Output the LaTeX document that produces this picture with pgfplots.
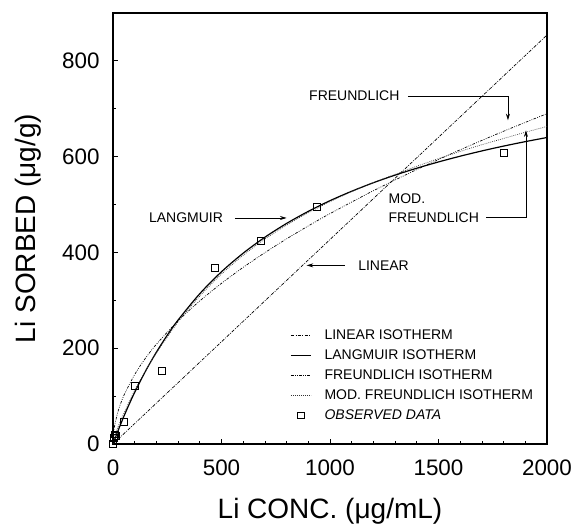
\documentclass[border=0pt]{standalone}
\usepackage{fontspec}
\setmainfont{Liberation Sans}
\usepackage{pgfplots}
\pgfplotsset{compat=1.18}
\usetikzlibrary{arrows.meta}
\pgfplotsset{
  lineleg/.style={legend image code/.code={\draw[##1] (0pt,0pt) -- (15pt,0pt);}},
  markleg/.style={legend image code/.code={\draw[##1] plot coordinates {(7.5pt,0pt)};}},
}

\begin{document}
\begin{tikzpicture}
\begin{axis}[
  scale only axis, width=325.5pt, height=323.25pt,
  xmin=0, xmax=2000, ymin=0, ymax=900,
  xtick={0,500,1000,1500,2000}, minor x tick num=4,
  ytick={0,200,400,600,800}, minor y tick num=1,
  xtick pos=bottom, ytick pos=left, tick align=inside,
  major tick length=4pt, minor tick length=2.5pt,
  axis line style={line width=1.2pt},
  tick style={line width=0.6pt, black},
  /pgf/number format/assume math mode=true,
  /pgf/number format/1000 sep={},
  scaled x ticks=false, scaled y ticks=false,
  ticklabel style={font=\fontsize{16.8}{20}\selectfont},
  xticklabel style={yshift=-8pt},
  yticklabel style={xshift=-6.5pt},
  xlabel={Li CONC. (μg/mL)}, ylabel={Li SORBED (μg/g)},
  every axis x label/.style={at={(axis description cs:0.5,-0.172)},anchor=base,font=\fontsize{21}{25}\selectfont},
  every axis y label/.style={at={(axis description cs:-0.1797,0.5)},rotate=90,anchor=base,font=\fontsize{21}{25}\selectfont},
  legend cell align=left,
  legend style={draw=none, fill=none, inner sep=0pt, at={(rel axis cs:0.408,0.268)}, anchor=north west,
    font=\fontsize{10.5}{12.6}\selectfont, row sep=5pt, column sep=9.75pt,
    nodes={inner sep=0pt, text height=8pt, text depth=2pt}},
  lineleg,
]
% Linear isotherm
\addplot[black, line width=0.5pt, dash pattern=on 2.5pt off 1pt on 0.6pt off 1pt] coordinates {(0,0) (2000,854)};
\addlegendentry{LINEAR ISOTHERM}
% Langmuir isotherm
\addplot[black, line width=0.9pt, smooth] coordinates {
(0,0) (5,6.1) (10,12.2) (25,29.7) (50,57.5) (75,83.5) (100,107.8) (150,152.3) (200,191.8) (250,227.1)
(300,258.9) (400,313.9) (500,359.7) (600,398.5) (700,431.8) (800,460.6) (900,485.8) (1000,508.1)
(1100,527.8) (1200,545.6) (1300,561.5) (1400,575.9) (1500,589.0) (1600,601.0) (1700,612.0)
(1800,622.1) (1900,631.4) (2000,640.0)};
\addlegendentry{LANGMUIR ISOTHERM}
% Freundlich isotherm
\addplot[black, line width=0.5pt, smooth, dash pattern=on 2pt off 1pt on 0.6pt off 1pt on 0.6pt off 1pt] coordinates {
(0,0) (1,13.3) (5,30.6) (10,43.9) (25,70.7) (50,101.3) (100,145.2) (150,179.4) (200,208.3)
(300,257.2) (400,298.8) (500,335.5) (600,368.9) (700,399.6) (800,428.4) (900,455.4) (1000,481.1)
(1200,528.9) (1400,573.1) (1600,614.4) (1800,653.1) (2000,689.8)};
\addlegendentry{FREUNDLICH ISOTHERM}
% Modified Freundlich isotherm
\addplot[black!80, line width=0.5pt, smooth, dash pattern=on 0.6pt off 0.9pt] coordinates {
(0,0) (5,12) (10,20) (25,38) (50,64) (100,112) (150,153) (200,190) (300,255) (400,309) (500,355)
(600,394) (700,428) (800,457) (900,483) (1000,506) (1100,527) (1200,546) (1300,563) (1400,580)
(1500,596) (1600,611) (1700,625) (1800,638) (1900,651) (2000,663)};
\addlegendentry{MOD. FREUNDLICH ISOTHERM}
% Observed data
\addplot[black, only marks, mark=square, mark size=2.6pt, mark options={line width=0.6pt}, markleg] coordinates {
(0,0) (5,12) (8,20) (12,16) (50,47) (100,122) (225,152) (470,368) (680,425) (940,495) (1800,608)};
\addlegendentry{\textit{OBSERVED DATA}}

% annotations
\node[anchor=west, inner sep=0pt, font=\fontsize{10.5}{12.6}\selectfont] at (axis cs:903,727) {FREUNDLICH};
\draw[line width=0.5pt, -{Stealth[length=5pt,width=3pt]}] (axis cs:1359,727) -- (axis cs:1820,727) -- (axis cs:1820,676);
\node[anchor=east, inner sep=0pt, font=\fontsize{10.5}{12.6}\selectfont] at (axis cs:508,472) {LANGMUIR};
\draw[line width=0.5pt, -{Stealth[length=5pt,width=3pt]}] (axis cs:562,472) -- (axis cs:800,472);
\node[anchor=west, inner sep=0pt, font=\fontsize{10.5}{12.6}\selectfont] at (axis cs:1129,373) {LINEAR};
\draw[line width=0.5pt, -{Stealth[length=5pt,width=3pt]}] (axis cs:1069,373) -- (axis cs:892,373);
\node[anchor=west, inner sep=0pt, font=\fontsize{10.5}{12.6}\selectfont] at (axis cs:1269,512) {MOD.};
\node[anchor=west, inner sep=0pt, font=\fontsize{10.5}{12.6}\selectfont] at (axis cs:1269,473) {FREUNDLICH};
\draw[line width=0.5pt, -{Stealth[length=5pt,width=3pt]}] (axis cs:1719,473) -- (axis cs:1903,473) -- (axis cs:1903,655);
\end{axis}
\pgfresetboundingbox
\path[use as bounding box] (-84.75pt,-60.75pt) rectangle (348pt,333pt);
\end{tikzpicture}
\end{document}
